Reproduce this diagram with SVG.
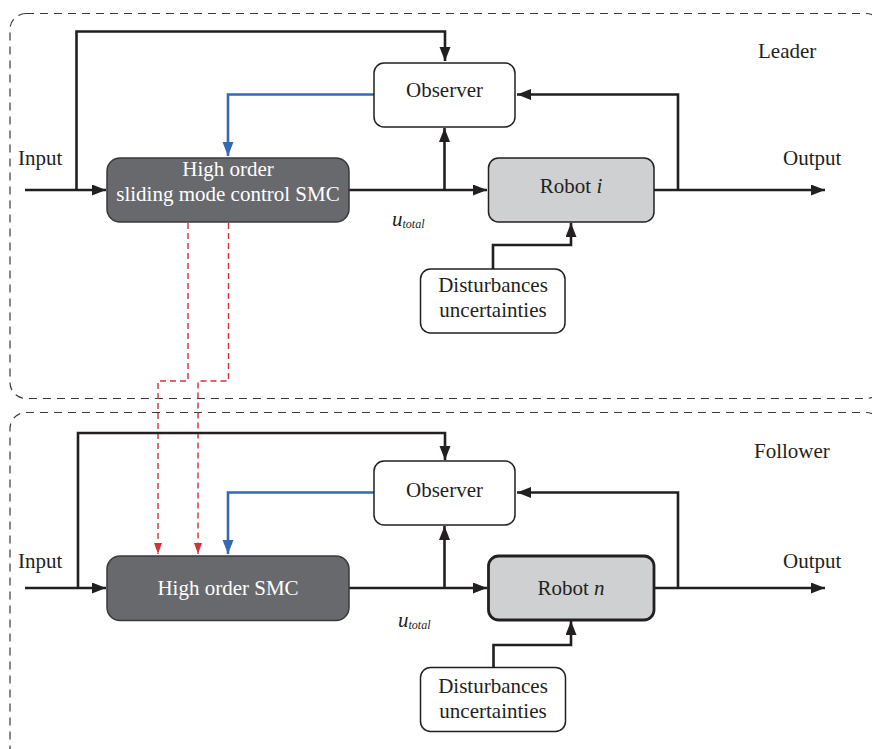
<svg xmlns="http://www.w3.org/2000/svg" width="872" height="749" viewBox="0 0 872 749">
  <style>
    text { font-family: "Liberation Serif", "Times New Roman", serif; font-size: 21px; fill: #231f20; }
    .mid { text-anchor: middle; }
    .white { fill: #ffffff; }
    .frame { fill: none; stroke: #3a3a3a; stroke-width: 1.2; stroke-dasharray: 8 6; }
    .line { fill: none; stroke: #231f20; stroke-width: 2.6; }
    .blue { fill: none; stroke: #3568b5; stroke-width: 2.6; }
    .red { fill: none; stroke: #d3323b; stroke-width: 1.4; stroke-dasharray: 6 4; }
    .smc { fill: #68696d; stroke: #3a3a3c; stroke-width: 1.5; }
    .obs { fill: #ffffff; stroke: #231f20; stroke-width: 1.5; }
    .robot { fill: #cfd0d2; stroke: #231f20; stroke-width: 1.5; }
    .robot.thick { stroke-width: 2.8; }
    .sub { font-size: 12px; font-style: italic; }
    .it { font-style: italic; }
  </style>
  <defs>
    <marker id="ab" markerUnits="userSpaceOnUse" markerWidth="16" markerHeight="12" refX="14" refY="5.5" orient="auto">
      <path d="M0,0 L14,5.5 L0,11 Z" fill="#231f20"/>
    </marker>
    <marker id="abl" markerUnits="userSpaceOnUse" markerWidth="16" markerHeight="12" refX="14" refY="5.5" orient="auto">
      <path d="M0,0 L14,5.5 L0,11 Z" fill="#3568b5"/>
    </marker>
    <marker id="ar" markerUnits="userSpaceOnUse" markerWidth="12" markerHeight="10" refX="11" refY="4" orient="auto">
      <path d="M0,0 L11,4 L0,8 Z" fill="#d3323b"/>
    </marker>
  </defs>

  <!-- frames -->
  <rect class="frame" x="10" y="13.5" width="872" height="385" rx="16"/>
  <rect class="frame" x="10" y="412.5" width="872" height="360" rx="16"/>
  <text x="758" y="58">Leader</text>
  <text x="754" y="458">Follower</text>

  <!-- connectors -->
  <g id="connectors">
    <!-- leader -->
    <path class="line" d="M25,190 H106" marker-end="url(#ab)"/>
    <path class="line" d="M76.5,190 V31.5 H445 V61" marker-end="url(#ab)"/>
    <path class="blue" d="M374,94.5 H228 V156" marker-end="url(#abl)"/>
    <path class="line" d="M349,190 H487" marker-end="url(#ab)"/>
    <path class="line" d="M444.5,190 V128" marker-end="url(#ab)"/>
    <path class="line" d="M654,190 H825" marker-end="url(#ab)"/>
    <path class="line" d="M678,190 V94.5 H517" marker-end="url(#ab)"/>
    <path class="line" d="M493,269 V245 H571 V223" marker-end="url(#ab)"/>
    <!-- red links -->
    <path class="red" d="M188,223 V381 H158 V554" marker-end="url(#ar)"/>
    <path class="red" d="M228.5,223 V381 H198 V554" marker-end="url(#ar)"/>
    <!-- follower -->
    <path class="line" d="M25,588 H106" marker-end="url(#ab)"/>
    <path class="line" d="M78,588 V433 H445 V460" marker-end="url(#ab)"/>
    <path class="blue" d="M374,492.5 H228 V554" marker-end="url(#abl)"/>
    <path class="line" d="M349,588 H487" marker-end="url(#ab)"/>
    <path class="line" d="M444.5,588 V526" marker-end="url(#ab)"/>
    <path class="line" d="M654,588 H825" marker-end="url(#ab)"/>
    <path class="line" d="M678,588 V492.5 H517" marker-end="url(#ab)"/>
    <path class="line" d="M493.5,667 V645 H571 V621" marker-end="url(#ab)"/>
  </g>

  <!-- labels -->
  <text x="18" y="165">Input</text>
  <text x="783" y="165">Output</text>
  <text x="392" y="226" class="it">u<tspan class="sub" dy="2">total</tspan></text>
  <text x="18" y="568">Input</text>
  <text x="783" y="568">Output</text>
  <text x="398" y="627" class="it">u<tspan class="sub" dy="2">total</tspan></text>

  <!-- leader nodes -->
  <g id="smc-leader">
    <rect class="smc" x="107" y="158" width="242" height="64" rx="13"/>
    <text class="mid white" x="228" y="176">High order</text>
    <text class="mid white" x="228" y="201">sliding mode control SMC</text>
  </g>
  <g id="observer-leader">
    <rect class="obs" x="374" y="63" width="141" height="64" rx="10"/>
    <text class="mid" x="444.5" y="97">Observer</text>
  </g>
  <g id="robot-i">
    <rect class="robot" x="488.5" y="158" width="165.5" height="64" rx="10"/>
    <text class="mid" x="571" y="193">Robot <tspan class="it">i</tspan></text>
  </g>
  <g id="dist-leader">
    <rect class="obs" x="420.5" y="269" width="144.5" height="64" rx="10"/>
    <text class="mid" x="493" y="292">Disturbances</text>
    <text class="mid" x="493" y="317">uncertainties</text>
  </g>

  <!-- follower nodes -->
  <g id="smc-follower">
    <rect class="smc" x="107" y="556" width="242" height="64.5" rx="13"/>
    <text class="mid white" x="228" y="595">High order SMC</text>
  </g>
  <g id="observer-follower">
    <rect class="obs" x="374" y="461" width="141" height="64" rx="10"/>
    <text class="mid" x="444.5" y="497">Observer</text>
  </g>
  <g id="robot-n">
    <rect class="robot thick" x="488.5" y="556" width="165.5" height="64" rx="10"/>
    <text class="mid" x="571" y="595">Robot <tspan class="it">n</tspan></text>
  </g>
  <g id="dist-follower">
    <rect class="obs" x="420.5" y="667.5" width="145" height="64" rx="10"/>
    <text class="mid" x="493" y="693">Disturbances</text>
    <text class="mid" x="493" y="718">uncertainties</text>
  </g>
</svg>
